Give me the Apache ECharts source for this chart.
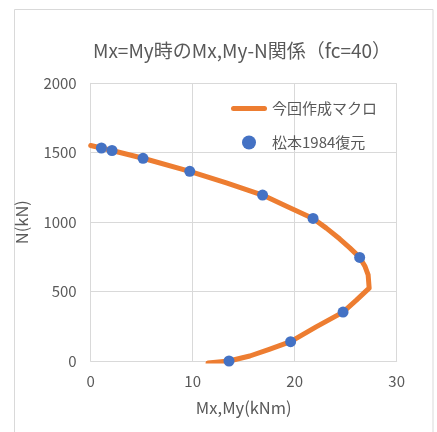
<!DOCTYPE html>
<html>
<head>
<meta charset="utf-8">
<script src="https://cdn.jsdelivr.net/npm/echarts@6/dist/echarts.min.js"></script>
<style>
html,body{margin:0;padding:0;background:#fff;}
#chart{width:437px;height:432px;}
</style>
</head>
<body>
<div id="chart"></div>
<script>
// Orange curve: "今回作成マクロ" (Mx,My [kNm], N [kN])
const curveM = [11.5, 13.56, 15.6, 17.5, 19.6, 22.1, 24.74, 26.05, 27.3, 27.2, 26.9, 26.37, 25.4, 24.4, 23.1, 21.8, 19.2, 16.85, 13.3, 9.71, 5.13, 2.09, 1.05, 0];
const curveN = [-15, 0, 36, 84, 139, 246, 352, 438, 525, 620, 680, 746, 815, 880, 957, 1027, 1115, 1195, 1282, 1366, 1460, 1516, 1534, 1552];
// Blue points: "松本1984復元"
const pointM = [1.05, 2.09, 5.13, 9.71, 16.85, 21.8, 26.37, 24.74, 19.6, 13.56];
const pointN = [1534, 1516, 1460, 1366, 1195, 1027, 746, 352, 139, 0];
// Axes
const xTicks = [0, 10, 20, 30];
const yTicks = [0, 500, 1000, 1500, 2000];
const titleText = 'Mx=My時のMx,My-N関係（fc=40）';
const seriesNames = ['今回作成マクロ', '松本1984復元'];
const xName = 'Mx,My(kNm)';
const yName = 'N(kN)';

const FONT = '"Noto Sans CJK JP", "Noto Sans", sans-serif';
const TXT = '#595959';
const GRID = '#D9D9D9';
const ORANGE = '#ED7D31';
const BLUE = '#4472C4';

const chart = echarts.init(document.getElementById('chart'), null, {renderer: 'canvas'});
chart.setOption({
  backgroundColor: '#fff',
  animation: false,
  graphic: [{
    type: 'rect', silent: true, z: -10,
    shape: {x: 14.5, y: 9.5, width: 418.5, height: 440},
    style: {fill: '#fff', stroke: GRID, lineWidth: 1}
  }],
  title: {
    text: titleText,
    left: 237, top: 36, textAlign: 'center',
    textStyle: {fontFamily: FONT, fontSize: 19, fontWeight: 'normal', color: TXT}
  },
  legend: {
    orient: 'vertical', left: 226, top: 96,
    itemWidth: 36, itemHeight: 14, itemGap: 19,
    textStyle: {fontFamily: FONT, fontSize: 15, color: TXT},
    data: [
      {name: seriesNames[0], icon: 'path://M2.5,0 H33.5 A2.5,2.5 0 0 1 33.5,5 H2.5 A2.5,2.5 0 0 1 2.5,0 Z', symbolKeepAspect: true, itemStyle: {color: ORANGE}},
      {name: seriesNames[1], icon: 'circle', itemStyle: {color: BLUE, opacity: 1}}
    ]
  },
  grid: {left: 90.7, right: 40.3, top: 83.3, bottom: 71, containLabel: false},
  xAxis: {
    type: 'value', min: xTicks[0], max: xTicks[xTicks.length - 1], interval: 10,
    name: xName, nameLocation: 'middle', nameGap: 38,
    nameTextStyle: {fontFamily: FONT, fontSize: 16.5, color: TXT},
    axisLine: {show: true, onZero: false, lineStyle: {color: GRID}},
    axisTick: {show: false},
    axisLabel: {fontFamily: FONT, fontSize: 15, color: TXT, margin: 13, formatter: v => String(v)},
    splitLine: {show: true, lineStyle: {color: GRID}}
  },
  yAxis: {
    type: 'value', min: yTicks[0], max: yTicks[yTicks.length - 1], interval: 500,
    name: yName, nameLocation: 'middle', nameGap: 61, nameRotate: 90,
    nameTextStyle: {fontFamily: FONT, fontSize: 16.5, color: TXT},
    axisLine: {show: true, onZero: false, lineStyle: {color: GRID}},
    axisTick: {show: false},
    axisLabel: {fontFamily: FONT, fontSize: 15, color: TXT, margin: 14, formatter: v => String(v)},
    splitLine: {show: true, lineStyle: {color: GRID}}
  },
  series: [{
    name: seriesNames[0], type: 'line',
    data: curveM.map((m, i) => [m, curveN[i]]),
    showSymbol: false, symbol: 'none', smooth: false, clip: true,
    lineStyle: {color: ORANGE, width: 5, cap: 'round', join: 'round'},
    itemStyle: {color: ORANGE},
    z: 2
  }, {
    name: seriesNames[1], type: 'scatter',
    data: pointM.map((m, i) => [m, pointN[i]]),
    symbol: 'circle', symbolSize: 11, clip: false,
    itemStyle: {color: BLUE, opacity: 1},
    z: 3
  }]
});
</script>
</body>
</html>
